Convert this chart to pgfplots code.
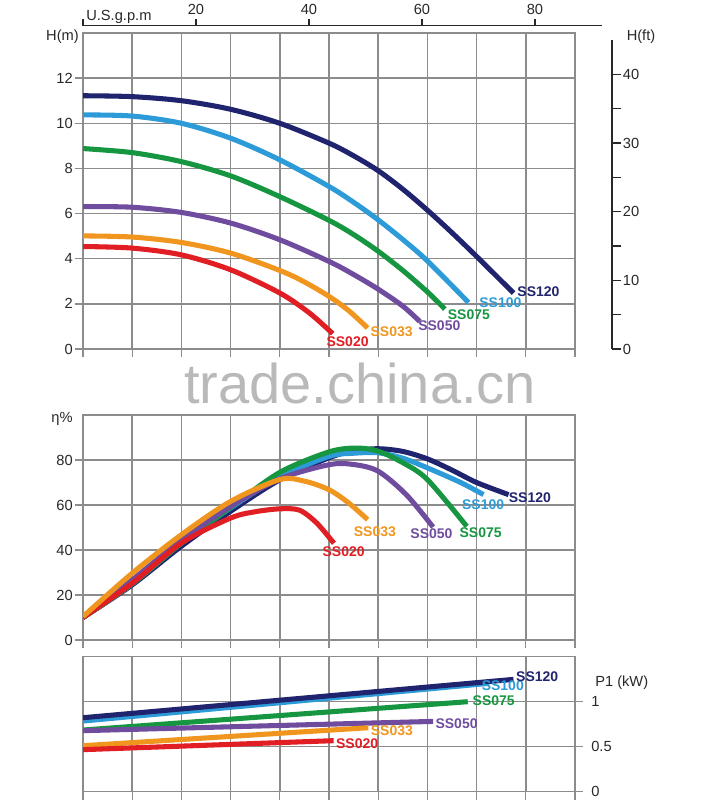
\documentclass[border=0pt]{standalone}
\usepackage{fontspec}
\setmainfont{Liberation Sans}
\usepackage{pgfplots}
\pgfplotsset{compat=1.18}

\definecolor{cNavy}{RGB}{32,36,110}
\definecolor{cBlue}{RGB}{45,155,215}
\definecolor{cGreen}{RGB}{22,150,65}
\definecolor{cPurple}{RGB}{112,76,158}
\definecolor{cOrange}{RGB}{240,150,30}
\definecolor{cRed}{RGB}{225,30,35}
\definecolor{cGrid}{RGB}{140,140,140}
\definecolor{cText}{RGB}{40,40,40}
\definecolor{cMark}{RGB}{185,185,185}

\tikzset{lab/.style={font=\bfseries\fontsize{10.5}{12}\selectfont, anchor=west, inner sep=0pt}}
\pgfplotsset{
  pumpgrid/.style={
    scale only axis, width=369pt,
    xmin=0, xmax=20, xtick={0,2,...,20}, xticklabels={},
    grid=major, grid style={draw=cGrid, line width=1.1pt},
    axis line style={draw=cGrid, line width=1.1pt},
    tick style={draw=cGrid, line width=1pt},
    tick align=outside, major tick length=6pt,
    ticklabel style={font=\fontsize{11}{13}\selectfont, text=cText, inner sep=1.5pt},
    /pgf/number format/assume math mode=true,
    clip mode=individual,
    every axis plot/.append style={line width=3.8pt, smooth},
  },
}

\begin{document}
\begin{tikzpicture}
\path[use as bounding box] (0pt,0pt) rectangle (537pt,600pt);

% head, m
\begin{axis}[pumpgrid, at={(62.25pt,338.25pt)}, anchor=south west, height=237pt,
  ymin=0, ymax=14, ytick={0,2,...,12},
  xtick pos=bottom, ytick pos=left]
\addplot[cNavy] coordinates {(0,11.22) (2,11.18) (4,11.0) (6,10.62) (8,10.0) (10,9.12) (11,8.56) (12,7.9) (13,7.08) (14,6.15) (15,5.15) (16,4.1) (17.5,2.48)};
\addplot[cBlue] coordinates {(0,10.37) (2,10.32) (4,10.0) (6,9.34) (8,8.38) (10,7.2) (11,6.5) (12,5.72) (13,4.85) (14,3.9) (15.67,2.06)};
\addplot[cGreen] coordinates {(0,8.88) (2,8.7) (4,8.3) (6,7.67) (8,6.75) (10,5.7) (11,5.07) (12,4.33) (13,3.48) (14,2.53) (14.71,1.77)};
\addplot[cPurple] coordinates {(0,6.31) (2,6.28) (4,6.05) (6,5.58) (8,4.84) (10,3.88) (11,3.3) (12,2.65) (13,1.9) (13.69,1.22)};
\addplot[cOrange] coordinates {(0,5.01) (2,4.96) (4,4.72) (6,4.25) (8,3.48) (9,2.97) (10,2.33) (10.8,1.7) (11.57,0.93)};
\addplot[cRed] coordinates {(0,4.54) (2,4.47) (4,4.17) (6,3.51) (8,2.48) (9.2,1.6) (10.15,0.68)};
\node[lab, text=cNavy] at (axis cs:17.65,2.55) {SS120};
\node[lab, text=cBlue] at (axis cs:16.1,2.03) {SS100};
\node[lab, text=cGreen] at (axis cs:14.82,1.52) {SS075};
\node[lab, text=cPurple] at (axis cs:13.62,1.04) {SS050};
\node[lab, text=cOrange] at (axis cs:11.68,0.78) {SS033};
\node[lab, text=cRed] at (axis cs:9.89,0.34) {SS020};
\end{axis}

% U.S.g.p.m scale
\begin{axis}[at={(62.25pt,580.725pt)}, anchor=north west, scale only axis,
  width=389.25pt, height=2pt, xmin=0, xmax=91.86, ymin=0, ymax=1,
  hide y axis, axis x line=top, axis line style={-, draw=cText, line width=1pt},
  tick style={draw=cText, line width=0.9pt}, tick align=outside, major tick length=5pt,
  xtick={0,20,40,60,80}, xticklabels={,20,40,60,80},
  ticklabel style={font=\fontsize{11}{13}\selectfont, text=cText},
  /pgf/number format/assume math mode=true]
\end{axis}

% head, ft
\begin{axis}[at={(459pt,338.25pt)}, anchor=south east, scale only axis,
  width=10pt, height=231.75pt, xmin=0, xmax=1, ymin=0, ymax=45,
  hide x axis, axis y line=right, axis line style={-, draw=cText, line width=1pt},
  tick style={draw=cText, line width=0.9pt}, tick align=outside,
  major tick length=7pt, minor tick length=7pt,
  ytick={0,10,...,40}, minor ytick={5,15,25,35},
  ticklabel style={font=\fontsize{11}{13}\selectfont, text=cText, inner sep=1pt},
  /pgf/number format/assume math mode=true]
\end{axis}

\node[text=cText, font=\fontsize{11}{13}\selectfont] at (46.875pt,572.25pt) {H(m)};
\node[text=cText, font=\fontsize{11}{13}\selectfont] at (480.75pt,572.25pt) {H(ft)};
\node[text=cText, font=\fontsize{11}{13}\selectfont, anchor=west, inner sep=0pt] at (64.5pt,587.25pt) {U.S.g.p.m};

% watermark
\node[text=cMark, font=\fontsize{42}{42}\selectfont] at (270pt,312.75pt) {trade.china.cn};

% efficiency
\begin{axis}[pumpgrid, at={(62.25pt,120pt)}, anchor=south west, height=168.75pt,
  ymin=0, ymax=100, ytick={0,20,...,80},
  xtick pos=bottom, ytick pos=left]
\addplot[cNavy] coordinates {(0,10) (2,24.5) (4,41.7) (6,57.2) (8,71.2) (10,81) (11,84) (12,85) (13,83.8) (14,80.5) (15,75.5) (16,70) (17.3,64.6)};
\addplot[cBlue] coordinates {(0,10) (2,25) (4,43.1) (6,58.7) (8,72.5) (10,81.6) (11,83) (12,83.2) (13,80.8) (14,76.5) (15.35,70) (16.28,64.6)};
\addplot[cGreen] coordinates {(0,10) (2,25) (4,43) (6,59) (8,74.5) (10,83.6) (11.1,85.3) (12,83.9) (13,78.8) (14,71.3) (15.6,50.5)};
\addplot[cPurple] coordinates {(0,10) (2,26.7) (4,44.5) (6,59.4) (8,71.6) (10,77.9) (11,78) (12,75) (13.14,64.6) (14.23,50.2)};
\addplot[cRed] coordinates {(0,10) (2,25.2) (4,43.1) (6,54.2) (7,57) (8,58.3) (8.8,57.7) (9.5,52) (10.2,43)};
\addplot[cOrange] coordinates {(0,10.4) (2,29.7) (4,46.8) (6,61.6) (8,71.3) (9,70.6) (10,66.8) (10.8,60.9) (11.57,53.5)};
\node[lab, text=cNavy] at (axis cs:17.3,63.1) {SS120};
\node[lab, text=cBlue] at (axis cs:15.4,60) {SS100};
\node[lab, text=cGreen] at (axis cs:15.3,47.5) {SS075};
\node[lab, text=cPurple] at (axis cs:13.3,47.2) {SS050};
\node[lab, text=cOrange] at (axis cs:11.0,48.1) {SS033};
\node[lab, text=cRed] at (axis cs:9.73,39.3) {SS020};
\end{axis}
\node[text=cText, font=\fontsize{11}{13}\selectfont] at (46.5pt,285.75pt) {η\%};

% power
\begin{axis}[pumpgrid, at={(62.25pt,6.225pt)}, anchor=south west, height=101.25pt,
  ymin=0, ymax=1.5, ytick={0,0.5,1}, yticklabels={0,0.5,1},
  xtick pos=bottom, ytick pos=right, yticklabel pos=right,
  yticklabel style={xshift=4.5pt}]
\addplot[cGreen] coordinates {(0,0.685) (15.64,1.0)};
\addplot[cPurple] coordinates {(0,0.678) (14.23,0.781)};
\addplot[cOrange] coordinates {(0,0.511) (11.6,0.711)};
\addplot[cRed] coordinates {(0,0.467) (10.19,0.567)};
\addplot[cBlue] coordinates {(0,0.785) (16.5,1.204)};
\addplot[cNavy] coordinates {(0,0.822) (17.5,1.248)};
\node[lab, text=cBlue] at (axis cs:16.2,1.174) {SS100};
\node[lab, text=cNavy] at (axis cs:17.6,1.278) {SS120};
\node[lab, text=cGreen] at (axis cs:15.83,1.007) {SS075};
\node[lab, text=cPurple] at (axis cs:14.32,0.759) {SS050};
\node[lab, text=cOrange] at (axis cs:11.69,0.674) {SS033};
\node[lab, text=cRed] at (axis cs:10.28,0.53) {SS020};
\end{axis}
\node[text=cText, font=\fontsize{11}{13}\selectfont, anchor=west, inner sep=0pt] at (446.25pt,87.75pt) {P1 (kW)};

\end{tikzpicture}
\end{document}
